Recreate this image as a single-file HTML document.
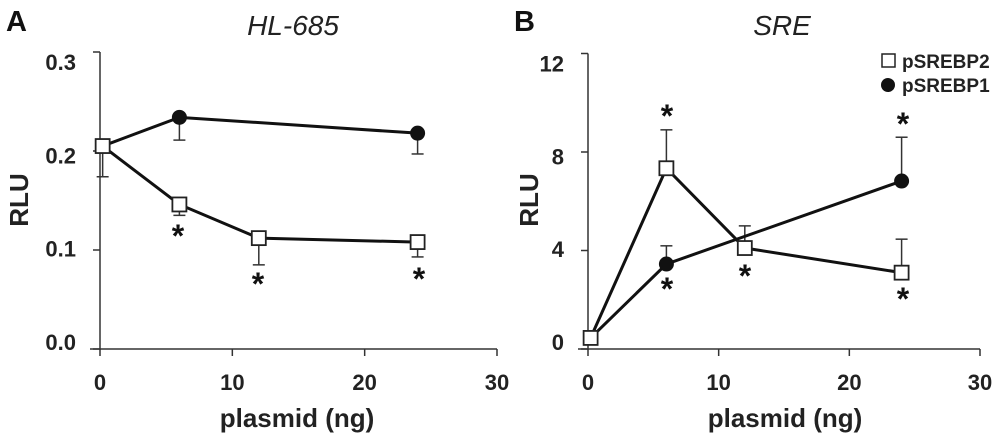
<!DOCTYPE html>
<html><head><meta charset="utf-8"><style>
html,body{margin:0;padding:0;background:#fff;}
svg{display:block;font-family:"Liberation Sans",Arial,sans-serif;}
</style></head><body>
<svg id="chart" width="1000" height="443" viewBox="0 0 1000 443"></svg>
<script>
const xValues = [0.2, 6, 12, 24];
const aSquare = [0.205, 0.146, 0.112, 0.108];
const aSquareErr = [-0.031, -0.011, -0.027, -0.015];
const aCircle = [0.205, 0.234, 0.218];
const aCircleX = [0.2, 6, 24];
const aCircleErr = [0, -0.023, -0.021];
const aYTicks = [0, 0.1, 0.2, 0.3];
const aYTickLabels = ["0.0", "0.1", "0.2", "0.3"];
const bSquare = [0.45, 7.34, 4.1, 3.1];
const bSquareErr = [0, 1.56, 0.9, 1.36];
const bCircle = [0.45, 3.45, 6.82];
const bCircleX = [0.2, 6, 24];
const bCircleErr = [0, 0.74, 1.78];
const bYTicks = [0, 4, 8, 12];
const bYTickLabels = ["0", "4", "8", "12"];
const xTicks = [0, 10, 20, 30];
const xTickLabels = ["0", "10", "20", "30"];

const NS = "http://www.w3.org/2000/svg";
const svg = document.getElementById("chart");
function mk(tag, attrs, parent) {
  const e = document.createElementNS(NS, tag);
  for (const k in attrs) e.setAttribute(k, attrs[k]);
  (parent || svg).appendChild(e);
  return e;
}

function panel(cfg) {
  const g = mk("g", {});
  
  
  const xs = v => cfg.x0 + (v / 30) * (cfg.x30 - cfg.x0);
  const ys = v => cfg.y0 - (v / cfg.ymax) * (cfg.y0 - cfg.ytop);
  const ya = mk("line", {x1: cfg.x0, y1: ys(cfg.ymax), x2: cfg.x0, y2: cfg.y0 + 1, stroke: "#333", "stroke-width": 1.5}, g);
  
  
  const xa = mk("line", {x1: cfg.x0 - 10, y1: cfg.y0, x2: xs(30), y2: cfg.y0, stroke: "#333", "stroke-width": 1.5}, g);
  
  
  const n = cfg.yTicks.length;
  cfg.yTicks.forEach((t, i) => {
    const y = ys(t);
    const tk = mk("line", {x1: cfg.x0 - 7, y1: y, x2: cfg.x0, y2: y, stroke: "#333", "stroke-width": 1.5}, g);
    
    
    const f = i / (n - 1);
    const ly = y + 10 * f - 7 * (1 - f) + 8;
    const lb = mk("text", {x: cfg.x0 - 24, y: ly, "text-anchor": "end", "font-size": 22, "font-weight": "bold", fill: "#222"}, g);
    lb.textContent = cfg.yLabels[i];
    
    
  });
  xTicks.forEach((t, i) => {
    const x = xs(t);
    const tk = mk("line", {x1: x, y1: cfg.y0, x2: x, y2: cfg.y0 + 7, stroke: "#333", "stroke-width": 1.5}, g);
    
    
    const lb = mk("text", {x: x, y: 390, "text-anchor": "middle", "font-size": 22, "font-weight": "bold", fill: "#222"}, g);
    lb.textContent = xTickLabels[i];
    
    
  });
  function err(xv, yv, ev, name) {
    if (!ev) return;
    const x = xs(xv), y1 = ys(yv), y2 = ys(yv + ev);
    const l = mk("line", {x1: x, y1: y1, x2: x, y2: y2, stroke: "#333", "stroke-width": 1.5}, g);
    
    
    const c = mk("line", {x1: x - 6, y1: y2, x2: x + 6, y2: y2, stroke: "#333", "stroke-width": 1.5}, g);
    
    
  }
  cfg.cX.forEach((xv, i) => err(xv, cfg.c[i], cfg.cErr[i], 'error-bar-circle'));
  xValues.forEach((xv, i) => err(xv, cfg.s[i], cfg.sErr[i], 'error-bar-square'));
  const cl = mk("polyline", {points: cfg.cX.map((xv, i) => xs(xv) + "," + ys(cfg.c[i])).join(" "), fill: "none", stroke: "#111", "stroke-width": 3}, g);
  
  
  const sl = mk("polyline", {points: xValues.map((xv, i) => xs(xv) + "," + ys(cfg.s[i])).join(" "), fill: "none", stroke: "#111", "stroke-width": 3}, g);
  
  
  cfg.cX.forEach((xv, i) => {
    const c = mk("circle", {cx: xs(xv), cy: ys(cfg.c[i]), r: 7.5, fill: "#111"}, g);
    
    
  });
  xValues.forEach((xv, i) => {
    const r = mk("rect", {x: xs(xv) - 7, y: ys(cfg.s[i]) - 7, width: 14, height: 14, fill: "#fff", stroke: "#222", "stroke-width": 1.8}, g);
    
    
  });
  cfg.stars.forEach(s => {
    const t = mk("text", {x: s[0], y: s[1] + 15, "text-anchor": "middle", "font-size": 32, "font-weight": "bold", fill: "#111"}, g);
    t.textContent = "*";
    
    
  });
  const yt = mk("text", {x: 0, y: 0, transform: "translate(" + cfg.rluX + ",200) rotate(-90)", "text-anchor": "middle", "font-size": 26, "font-weight": "bold", fill: "#222"}, g);
  yt.textContent = "RLU";
  
  
  const xt = mk("text", {x: cfg.xtX, y: 427, "text-anchor": "middle", "font-size": 26, "font-weight": "bold", fill: "#222"}, g);
  xt.textContent = "plasmid (ng)";
  
  
  const tt = mk("text", {x: cfg.titleX, y: 35, "text-anchor": "middle", "font-size": 28, "font-style": "italic", fill: "#222"}, g);
  tt.textContent = cfg.title;
  
  
  const pl = mk("text", {x: cfg.letterX, y: 31, "font-size": 29, "font-weight": "bold", fill: "#111"}, g);
  pl.textContent = cfg.letter;
  
  
}

panel({name: "panel-a", x0: 100, x30: 497, y0: 349, ytop: 52, ymax: 0.3,
  yTicks: aYTicks, yLabels: aYTickLabels, s: aSquare, sErr: aSquareErr, c: aCircle, cX: aCircleX, cErr: aCircleErr,
  stars: [[178, 232], [258, 280], [419, 275]], rluX: 28, xtX: 297, titleX: 293, title: "HL-685", letterX: 6, letter: "A"});
panel({name: "panel-b", x0: 588, x30: 980, y0: 349, ytop: 53.5, ymax: 12,
  yTicks: bYTicks, yLabels: bYTickLabels, s: bSquare, sErr: bSquareErr, c: bCircle, cX: bCircleX, cErr: bCircleErr,
  stars: [[667, 112], [667, 285], [745, 272], [903, 120], [903, 295]], rluX: 538, xtX: 785, titleX: 782, title: "SRE", letterX: 514, letter: "B"});

const lg = mk("g", {});


const ls = mk("rect", {x: 882, y: 54, width: 13, height: 13, fill: "#fff", stroke: "#222", "stroke-width": 1.5}, lg);


const lt1 = mk("text", {x: 902, y: 68, "font-size": 19, "font-weight": "bold", fill: "#222"}, lg);
lt1.textContent = "pSREBP2";


const lc = mk("circle", {cx: 888, cy: 85, r: 7, fill: "#111"}, lg);


const lt2 = mk("text", {x: 902, y: 92, "font-size": 19, "font-weight": "bold", fill: "#222"}, lg);
lt2.textContent = "pSREBP1";


</script>
</body></html>
